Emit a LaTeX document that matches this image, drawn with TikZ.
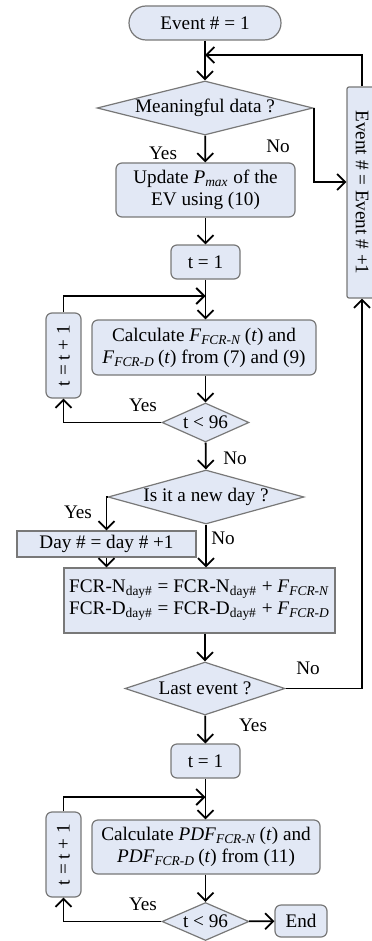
\documentclass[tikz,border=0pt]{standalone}
\usepackage{fontspec}
\setmainfont{Liberation Serif}
\usetikzlibrary{shapes.geometric,arrows.meta,calc}
\definecolor{boxfill}{RGB}{226,232,245}
\definecolor{boxline}{RGB}{120,120,120}

\begin{document}
\begin{tikzpicture}
[
x=0.5pt, y=-0.5pt,
every node/.style={font=\fontsize{9.6}{11}\selectfont},
box/.style={draw=boxline, fill=boxfill, line width=0.6pt, align=center, inner sep=1pt},
rbox/.style={box, rounded corners=3pt},
term/.style={box, rounded corners=8.5pt},
cond/.style={box, diamond, inner sep=0pt},
arr/.style={line width=0.9pt, -{Straight Barb[length=4pt,width=8pt]}},
lbl/.style={inner sep=0pt}
]
\useasboundingbox (0,0) rectangle (371,941);

\node[term, minimum width=76pt, minimum height=17pt] (start) at (205,23) {Event \# = 1};
\node[cond, aspect=4, minimum width=108pt, minimum height=27pt] (mean) at (205,108) {Meaningful data ?};
\node[rbox, minimum width=89.5pt, minimum height=27pt] (upd) at (205.5,190) {Update \textit{P}\textsubscript{\textit{max}} of the\\EV using (10)};
\node[box, rotate=-90, rounded corners=1pt, minimum width=105.5pt, minimum height=15pt] (evt) at (362,192.5) {Event \# = Event \# +1};
\node[rbox, minimum width=34.5pt, minimum height=17pt] (t1a) at (205.5,262) {t = 1};
\node[rbox, rotate=90, minimum width=42.5pt, minimum height=17.5pt] (inc1) at (63.5,355.5) {t = t + 1};
\node[rbox, minimum width=112pt, minimum height=27.5pt] (calc1) at (204,347.5) {Calculate \textit{F}\textsubscript{\textit{FCR-N}}\,(\textit{t}) and\\\textit{F}\textsubscript{\textit{FCR-D}}\,(\textit{t}) from (7) and (9)};
\node[cond, aspect=2.2, minimum width=43.5pt, minimum height=19.5pt] (lt1) at (205.5,422.5) {t < 96};
\node[cond, aspect=3.6, minimum width=98pt, minimum height=27pt] (newday) at (206,497) {Is it a new day ?};
\node[box, minimum width=89.5pt, minimum height=13pt] (day) at (106.5,544) {Day \# = day \# +1};
\node[box, minimum width=135.5pt, minimum height=32.5pt] (fcr) at (199.5,600.5) {FCR-N\textsubscript{day\#} = FCR-N\textsubscript{day\#} + \textit{F}\textsubscript{\textit{FCR-N}}\\FCR-D\textsubscript{day\#} = FCR-D\textsubscript{day\#} + \textit{F}\textsubscript{\textit{FCR-D}}};
\node[cond, aspect=3, minimum width=80pt, minimum height=26.5pt] (last) at (205,688.5) {Last event ?};
\node[rbox, minimum width=34.5pt, minimum height=17pt] (t1b) at (205.5,761) {t = 1};
\node[rbox, rotate=90, minimum width=42.5pt, minimum height=17.5pt] (inc2) at (63.5,854.5) {t = t + 1};
\node[rbox, minimum width=114pt, minimum height=27pt] (calc2) at (206,847) {Calculate \textit{PDF}\textsubscript{\textit{FCR-N}}\,(\textit{t}) and\\\textit{PDF}\textsubscript{\textit{FCR-D}}\,(\textit{t}) from (11)};
\node[cond, aspect=2.2, minimum width=43.5pt, minimum height=19pt] (lt2) at (205.5,921.5) {t < 96};
\node[rbox, minimum width=26pt, minimum height=16pt] (end) at (301,921) {End};

\node[lbl] (y1) at (163,153) {Yes};
\node[lbl] (n1) at (278,146) {No};
\node[lbl] (y2) at (143,405) {Yes};
\node[lbl] (n2) at (235,458) {No};
\node[lbl] (y3) at (78,512) {Yes};
\node[lbl] (n3) at (223,538) {No};
\node[lbl] (n4) at (308,668) {No};
\node[lbl] (y4) at (253,725) {Yes};
\node[lbl] (y5) at (143,904) {Yes};

\coordinate (back) at (205,55);
\coordinate (j1) at (205.5,296);
\coordinate (j2) at (205.5,797);

\draw[arr] (start) -- (mean);
\draw[arr] (evt.west) |- (back);
\draw[arr] (mean.east) |- ($(evt.south)+(0,-10.5)$);
\draw[arr] (mean) -- (upd);
\draw[arr] (upd) -- (t1a);
\draw[arr] (t1a) -- (t1a |- calc1.north);
\draw[arr] (inc1.east) |- (j1);
\draw[arr] (lt1 |- calc1.south) -- (lt1);
\draw[arr] (lt1.west) -| (inc1.west);
\draw[arr] (lt1) -- (newday);
\draw[arr] (newday.west) -| (day);
\draw[arr] (newday) -- (newday |- fcr.north);
\draw[arr] (day) -- (day |- fcr.north);
\draw[arr] (last |- fcr.south) -- (last);
\draw[arr] (last.east) -| (evt.east);
\draw[arr] (last) -- (t1b);
\draw[arr] (t1b) -- (t1b |- calc2.north);
\draw[arr] (inc2.east) |- (j2);
\draw[arr] (lt2 |- calc2.south) -- (lt2);
\draw[arr] (lt2.west) -| (inc2.west);
\draw[arr] (lt2) -- (end);
\end{tikzpicture}
\end{document}
